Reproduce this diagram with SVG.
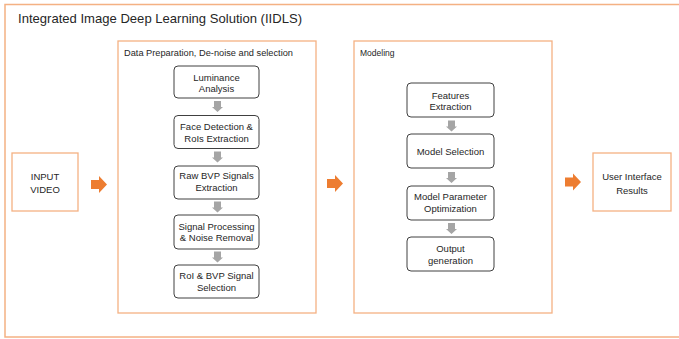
<svg xmlns="http://www.w3.org/2000/svg" width="679" height="339" viewBox="0 0 679 339">
<style>
.frame{fill:none;stroke:#F4B183;stroke-width:1.5}
.panel{fill:#fff;stroke:#F4B183;stroke-width:1.3}
.io{fill:#fff;stroke:#F4B183;stroke-width:1.3}
.step{fill:#fff;stroke:#404040;stroke-width:1}
.t{font-family:"Liberation Sans",Arial,sans-serif;fill:#262626}
.lbl{font-size:9.5px;text-anchor:middle}
.cap{font-size:8.5px}
.oa{fill:#ED7D31}
.ga{fill:#A5A5A5}
</style>
<defs>
<path id="oarrow" d="M0,-4.5 H8 V-8.5 L16,0 L8,8.5 V4.5 H0 Z"/>
<path id="garrow" d="M-3.5,0 H3.5 V6 H5.5 L0,11 L-5.5,6 H-3.5 Z"/>
</defs>
<rect class="frame" x="5" y="4.5" width="690" height="332.5"/>
<text class="t" x="18" y="22.5" font-size="13.5" textLength="284" lengthAdjust="spacingAndGlyphs">Integrated Image Deep Learning Solution (IIDLS)</text>

<g id="input">
<rect class="io" x="12" y="153" width="66" height="58"/>
<text class="t lbl" x="45" y="179.5">INPUT</text>
<text class="t lbl" x="45" y="192.5">VIDEO</text>
</g>

<g id="panel-prep">
<rect class="panel" x="118" y="41" width="198" height="272"/>
<text class="t cap" x="124" y="56" textLength="169" lengthAdjust="spacingAndGlyphs">Data Preparation, De-noise and selection</text>
</g>
<g id="luminance">
<rect class="step" x="174" y="66" width="85" height="32" rx="4"/>
<text class="t lbl" x="216.5" y="81">Luminance</text>
<text class="t lbl" x="216.5" y="92">Analysis</text>
</g>
<g id="face">
<rect class="step" x="174" y="115.5" width="85" height="33" rx="4"/>
<text class="t lbl" x="216.5" y="130">Face Detection &amp;</text>
<text class="t lbl" x="216.5" y="141.5">RoIs Extraction</text>
</g>
<g id="raw">
<rect class="step" x="174" y="166" width="85" height="33" rx="4"/>
<text class="t lbl" x="216.5" y="179">Raw BVP Signals</text>
<text class="t lbl" x="216.5" y="191">Extraction</text>
</g>
<g id="signal">
<rect class="step" x="174" y="215" width="85" height="34" rx="4"/>
<text class="t lbl" x="216.5" y="229.5">Signal Processing</text>
<text class="t lbl" x="216.5" y="241">&amp; Noise Removal</text>
</g>
<g id="roi">
<rect class="step" x="174" y="265" width="85" height="33" rx="4"/>
<text class="t lbl" x="216.5" y="279">RoI &amp; BVP Signal</text>
<text class="t lbl" x="216.5" y="290.5">Selection</text>
</g>

<g id="panel-model">
<rect class="panel" x="354" y="41" width="198" height="272"/>
<text class="t cap" x="360" y="56">Modeling</text>
</g>
<g id="features">
<rect class="step" x="407" y="83" width="87" height="34" rx="4"/>
<text class="t lbl" x="450.5" y="98.5">Features</text>
<text class="t lbl" x="450.5" y="110">Extraction</text>
</g>
<g id="modelsel">
<rect class="step" x="407" y="134" width="87" height="34" rx="4"/>
<text class="t lbl" x="450.5" y="155">Model Selection</text>
</g>
<g id="param">
<rect class="step" x="407" y="186" width="87" height="34" rx="4"/>
<text class="t lbl" x="450.5" y="200">Model Parameter</text>
<text class="t lbl" x="450.5" y="211.5">Optimization</text>
</g>
<g id="output">
<rect class="step" x="407" y="237" width="87" height="34" rx="4"/>
<text class="t lbl" x="450.5" y="251.5">Output</text>
<text class="t lbl" x="450.5" y="263.5">generation</text>
</g>

<g id="ui">
<rect class="io" x="593" y="153" width="78" height="58"/>
<text class="t lbl" x="632" y="180">User Interface</text>
<text class="t lbl" x="632" y="193.5">Results</text>
</g>

<g id="connectors">
<use href="#oarrow" class="oa" x="91" y="184.5"/>
<use href="#oarrow" class="oa" x="327" y="183.5"/>
<use href="#oarrow" class="oa" x="565" y="182"/>
<use href="#garrow" class="ga" x="217.5" y="101"/>
<use href="#garrow" class="ga" x="217.5" y="151.5"/>
<use href="#garrow" class="ga" x="217.5" y="201.5"/>
<use href="#garrow" class="ga" x="217.5" y="251.5"/>
<use href="#garrow" class="ga" x="451.5" y="120.5"/>
<use href="#garrow" class="ga" x="451.5" y="172"/>
<use href="#garrow" class="ga" x="451.5" y="223"/>
</g>
</svg>
